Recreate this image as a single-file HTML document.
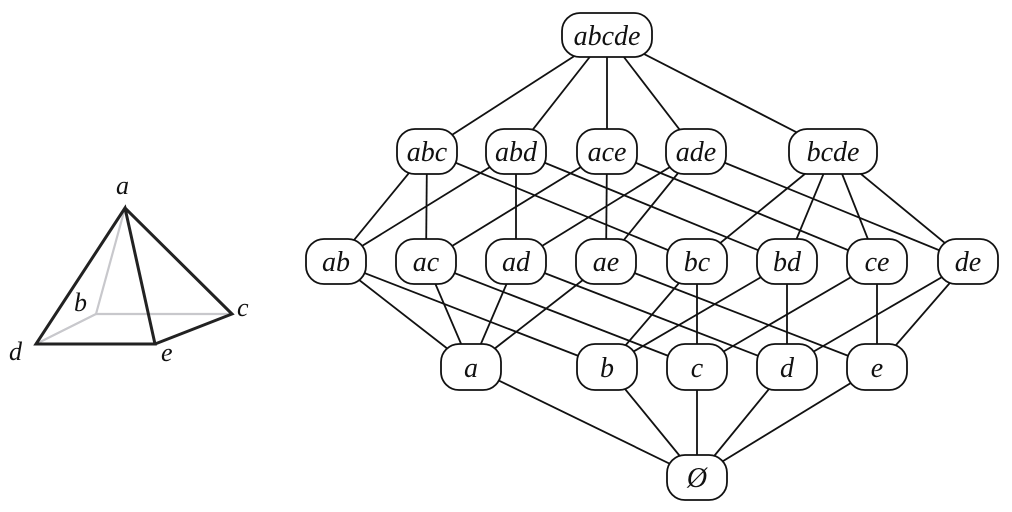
<!DOCTYPE html>
<html><head><meta charset="utf-8"><style>
html,body{margin:0;padding:0;background:#fff;}
svg{display:block;}
</style></head><body>
<svg width="1012" height="512" viewBox="0 0 1012 512">
<g stroke="#111" stroke-width="1.8">
<line x1="607" y1="35" x2="427" y2="151"/><line x1="607" y1="35" x2="516" y2="151"/><line x1="607" y1="35" x2="607" y2="151"/><line x1="607" y1="35" x2="696" y2="151"/><line x1="607" y1="35" x2="833" y2="151"/>
<line x1="427" y1="151" x2="336" y2="262"/><line x1="427" y1="151" x2="426" y2="262"/><line x1="427" y1="151" x2="697" y2="262"/>
<line x1="516" y1="151" x2="336" y2="262"/><line x1="516" y1="151" x2="516" y2="262"/><line x1="516" y1="151" x2="787" y2="262"/>
<line x1="607" y1="151" x2="426" y2="262"/><line x1="607" y1="151" x2="606" y2="262"/><line x1="607" y1="151" x2="877" y2="262"/>
<line x1="696" y1="151" x2="516" y2="262"/><line x1="696" y1="151" x2="606" y2="262"/><line x1="696" y1="151" x2="968" y2="262"/>
<line x1="833" y1="151" x2="697" y2="262"/><line x1="833" y1="151" x2="787" y2="262"/><line x1="833" y1="151" x2="877" y2="262"/><line x1="833" y1="151" x2="968" y2="262"/>
<line x1="336" y1="262" x2="471" y2="367"/><line x1="336" y1="262" x2="607" y2="367"/>
<line x1="426" y1="262" x2="471" y2="367"/><line x1="426" y1="262" x2="697" y2="367"/>
<line x1="516" y1="262" x2="471" y2="367"/><line x1="516" y1="262" x2="787" y2="367"/>
<line x1="606" y1="262" x2="471" y2="367"/><line x1="606" y1="262" x2="877" y2="367"/>
<line x1="697" y1="262" x2="607" y2="367"/><line x1="697" y1="262" x2="697" y2="367"/>
<line x1="787" y1="262" x2="607" y2="367"/><line x1="787" y1="262" x2="787" y2="367"/>
<line x1="877" y1="262" x2="697" y2="367"/><line x1="877" y1="262" x2="877" y2="367"/>
<line x1="968" y1="262" x2="787" y2="367"/><line x1="968" y1="262" x2="877" y2="367"/>
<line x1="471" y1="367" x2="697" y2="477"/><line x1="607" y1="367" x2="697" y2="477"/><line x1="697" y1="367" x2="697" y2="477"/><line x1="787" y1="367" x2="697" y2="477"/><line x1="877" y1="367" x2="697" y2="477"/>
</g>
<g fill="#fff" stroke="#111" stroke-width="1.8">
<rect x="562" y="13" width="90" height="44" rx="18"/>
<rect x="397" y="129" width="60" height="45" rx="18"/>
<rect x="486" y="129" width="60" height="45" rx="18"/>
<rect x="577" y="129" width="60" height="45" rx="18"/>
<rect x="666" y="129" width="60" height="45" rx="18"/>
<rect x="789" y="129" width="88" height="45" rx="18"/>
<rect x="306" y="239" width="60" height="45" rx="18"/>
<rect x="396" y="239" width="60" height="45" rx="18"/>
<rect x="486" y="239" width="60" height="45" rx="18"/>
<rect x="576" y="239" width="60" height="45" rx="18"/>
<rect x="667" y="239" width="60" height="45" rx="18"/>
<rect x="757" y="239" width="60" height="45" rx="18"/>
<rect x="847" y="239" width="60" height="45" rx="18"/>
<rect x="938" y="239" width="60" height="45" rx="18"/>
<rect x="441" y="344" width="60" height="46" rx="18"/>
<rect x="577" y="344" width="60" height="46" rx="18"/>
<rect x="667" y="344" width="60" height="46" rx="18"/>
<rect x="757" y="344" width="60" height="46" rx="18"/>
<rect x="847" y="344" width="60" height="46" rx="18"/>
<rect x="667" y="455" width="60" height="45" rx="18"/>
</g>
<g text-anchor="middle" font-family="'Liberation Serif', 'DejaVu Serif', serif" font-style="italic" font-size="28" fill="#111">
<text x="607" y="45">abcde</text>
<text x="427" y="161">abc</text><text x="516" y="161">abd</text><text x="607" y="161">ace</text><text x="696" y="161">ade</text><text x="833" y="161">bcde</text>
<text x="336" y="271">ab</text><text x="426" y="271">ac</text><text x="516" y="271">ad</text><text x="606" y="271">ae</text><text x="697" y="271">bc</text><text x="787" y="271">bd</text><text x="877" y="271">ce</text><text x="968" y="271">de</text>
<text x="471" y="377">a</text><text x="607" y="377">b</text><text x="697" y="377">c</text><text x="787" y="377">d</text><text x="877" y="377">e</text>
<text x="697" y="487">Ø</text>
</g>
<g stroke="#c8c8cc" stroke-width="2.2" fill="none">
<line x1="125" y1="208" x2="96" y2="314"/><line x1="96" y1="314" x2="232" y2="314"/><line x1="96" y1="314" x2="36" y2="344"/>
</g>
<g stroke="#222" stroke-width="3" fill="none">
<polygon points="125,208 36,344 155,344"/>
<polyline points="125,208 232,314 155,344"/>
</g>
<g font-family="'Liberation Serif', 'DejaVu Serif', serif" font-style="italic" font-size="26" fill="#111">
<text x="116" y="194">a</text><text x="74" y="311">b</text><text x="237" y="316">c</text><text x="9" y="360">d</text><text x="161" y="361">e</text>
</g>
</svg>
</body></html>
